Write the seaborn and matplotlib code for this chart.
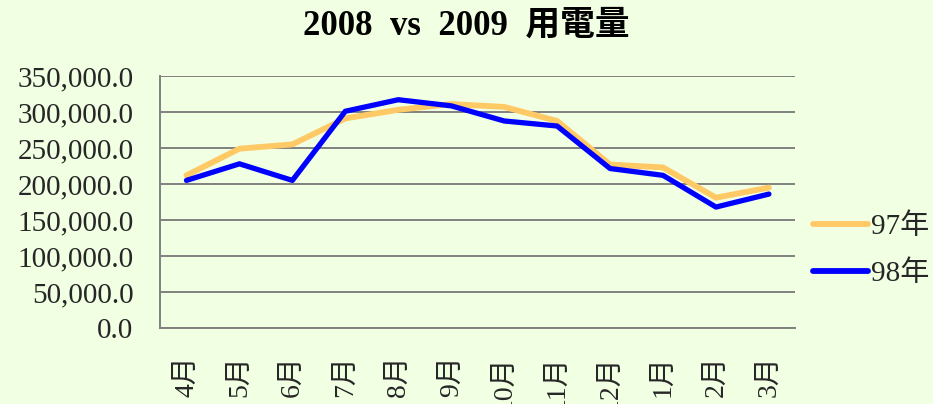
import pandas as pd
import matplotlib
matplotlib.use("Agg")
import matplotlib.pyplot as plt
import seaborn as sns

# ----------------------------------------------------
# Data: monthly power usage, 97年 vs 98年
# ----------------------------------------------------
months = ["4月", "5月", "6月", "7月", "8月", "9月",
          "10月", "11月", "12月", "1月", "2月", "3月"]
usage_97 = [212000, 249000, 255000, 291000, 303000, 311000,
            307000, 287500, 227000, 223000, 181000, 195000]
usage_98 = [205000, 228000, 205000, 301000, 317000, 308500,
            287500, 280500, 221500, 212000, 168000, 186000]
series_names = ["97年", "98年"]
colors = ["#FFC966", "#0000FF"]

df = pd.DataFrame({
    "pos": list(range(len(months))) * 2,
    "usage": usage_97 + usage_98,
    "year": [series_names[0]] * len(months) + [series_names[1]] * len(months),
})

bg = "#F1FFE3"
sns.set_style("white")
plt.rcParams["font.family"] = ["Liberation Serif", "Noto Sans CJK TC", "DejaVu Sans"]

fig = plt.figure(figsize=(9.33, 4.04), dpi=100, facecolor=bg)
ax = fig.add_axes([0.1715, 0.188, 0.681, 0.624])
ax.set_facecolor(bg)

sns.lineplot(data=df, x="pos", y="usage", hue="year",
             palette=dict(zip(series_names, colors)),
             linewidth=4.2, sort=False, legend=False, ax=ax)
# thinner blue line on top
ax.lines[1].set_linewidth(3.8)

ax.set_xlim(-0.5, len(months) - 0.5)
ax.set_ylim(0, 350000)
ax.set_yticks(range(0, 350001, 50000))
ax.set_yticklabels([f"{v:,.1f}" for v in range(0, 350001, 50000)], fontsize=21)
ax.set_xticks(range(len(months)))
ax.set_xticklabels(months, rotation=90, fontsize=20, va="top")
ax.tick_params(axis="y", length=0, pad=19)
ax.tick_params(axis="x", length=0, pad=20)
ax.set_xlabel("")
ax.set_ylabel("")

ax.grid(axis="y", color="#808080", linewidth=1.4)
ax.set_axisbelow(True)
for side in ["top", "right"]:
    ax.spines[side].set_visible(False)
for side in ["left", "bottom"]:
    ax.spines[side].set_color("#808080")
    ax.spines[side].set_linewidth(1.4)

fig.suptitle("2008  vs  2009  用電量", fontsize=25, fontweight="bold",
             color="black", y=0.975)

handles = [plt.Line2D([], [], color=c, linewidth=4.2) for c in colors]
fig.legend(handles, series_names, loc="center left", bbox_to_anchor=(0.871, 0.38),
           frameon=False, fontsize=21, handlelength=1.9, handletextpad=0.1,
           labelspacing=0.7, borderpad=0, borderaxespad=0)

fig.savefig("out.png", dpi=100, facecolor=bg)
